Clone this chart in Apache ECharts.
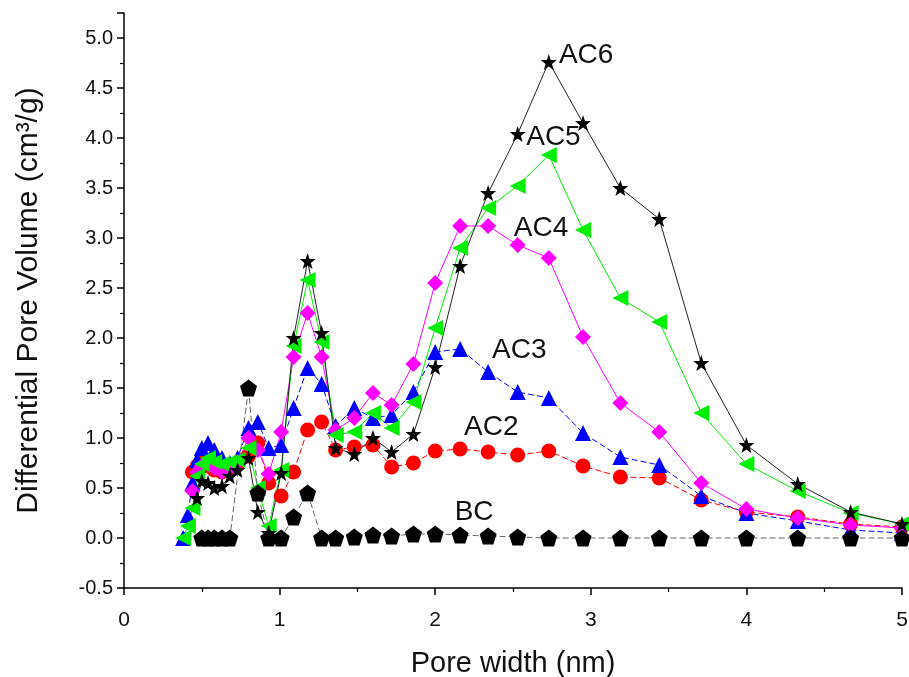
<!DOCTYPE html>
<html>
<head>
<meta charset="utf-8">
<script src="https://cdn.jsdelivr.net/npm/echarts@6/dist/echarts.min.js"></script>
<style>
  html, body { margin: 0; padding: 0; background: #fff; }
  #chart { width: 909px; height: 677px; }
</style>
</head>
<body>
<div id="chart"></div>
<script>
// Pore width grid (nm) shared by all samples
const poreWidth = [0.38, 0.41, 0.44, 0.47, 0.50, 0.54, 0.58, 0.63, 0.68, 0.73, 0.80, 0.86, 0.93, 1.01, 1.09,
  1.18, 1.27, 1.36, 1.48, 1.60, 1.72, 1.86, 2.00, 2.16, 2.34, 2.53, 2.73, 2.95, 3.19, 3.44, 3.71, 4.00,
  4.33, 4.67, 5.00];

// Differential pore volume (cm3/g); null = no measurement at that width
const BC  = [null, null, null, null, 0, 0, 0, 0, 0, null, 1.50, 0.45, 0, 0, 0.21,
  0.45, 0, 0, 0.01, 0.03, 0.02, 0.04, 0.04, 0.03, 0.02, 0.01, 0, 0, 0, 0, 0, 0,
  0, 0, 0];
const AC2 = [null, null, 0.66, 0.72, 0.76, 0.72, 0.68, 0.66, 0.70, 0.74, 0.82, 0.95, 0.55, 0.42, 0.66,
  1.08, 1.16, 0.88, 0.91, 0.93, 0.71, 0.75, 0.87, 0.89, 0.86, 0.83, 0.87, 0.72, 0.61, 0.60, 0.38, 0.26,
  0.21, 0.14, 0.11];
const AC3 = [0.0, 0.23, 0.55, 0.78, 0.90, 0.95, 0.88, 0.80, 0.75, 0.80, 1.10, 1.16, 0.90, 0.93, 1.30,
  1.70, 1.54, 1.12, 1.30, 1.20, 1.23, 1.46, 1.86, 1.89, 1.66, 1.46, 1.40, 1.05, 0.81, 0.73, 0.42, 0.25,
  0.17, 0.08, 0.05];
const AC4 = [null, null, 0.47, 0.66, 0.72, 0.74, 0.70, 0.66, 0.70, 0.76, 1.00, 0.88, 0.64, 1.06, 1.81,
  2.25, 1.81, 1.08, 1.20, 1.45, 1.33, 1.74, 2.55, 3.12, 3.12, 2.93, 2.80, 2.01, 1.35, 1.06, 0.55, 0.29,
  0.20, 0.13, 0.10];
const AC5 = [0.0, 0.12, 0.30, 0.62, 0.74, 0.80, 0.76, 0.74, 0.76, 0.78, 0.90, 0.50, 0.12, 0.68, 1.92,
  2.58, 1.96, 1.03, 1.06, 1.25, 1.10, 1.36, 2.10, 2.90, 3.30, 3.52, 3.83, 3.08, 2.40, 2.16, 1.25, 0.74,
  0.47, 0.25, 0.14];
const AC6 = [null, null, null, 0.40, 0.57, 0.55, 0.50, 0.52, 0.62, 0.68, 0.80, 0.26, 0.05, 0.65, 2.00,
  2.77, 2.05, 0.90, 0.84, 1.00, 0.86, 1.04, 1.71, 2.72, 3.45, 4.04, 4.76, 4.15, 3.50, 3.19, 1.75, 0.93,
  0.54, 0.26, 0.14];

// Axis ticks
const xTicks = { min: 0, max: 5, step: 1 };
const yTicks = { min: -0.5, max: 5.25, step: 0.5 };

// Where each sample name is written (data coordinates, text centre)
const nameAnchors = {
  AC6: [2.97, 4.83], AC5: [2.76, 4.01], AC4: [2.68, 3.10],
  AC3: [2.54, 1.88], AC2: [2.36, 1.11], BC: [2.25, 0.26]
};

const STAR = 'path://M0,-10 L2.35,-3.24 L9.51,-3.09 L3.80,1.24 L5.88,8.09 L0,4 L-5.88,8.09 L-3.80,1.24 L-9.51,-3.09 L-2.35,-3.24 Z';
const PENTAGON = 'path://M0,-10 L9.51,-3.09 L5.88,8.09 L-5.88,8.09 L-9.51,-3.09 Z';
const LEFT_TRI = 'path://M0,5 L10,0 L10,10 Z';

const FONT = 'Liberation Sans, Arial, sans-serif';

function pairs(ys) {
  const out = [];
  ys.forEach((y, i) => { if (y !== null) out.push([poreWidth[i], y]); });
  return out;
}

function makeSeries(name, ys, color, symbol, size, lineType, lineColor) {
  return {
    name: name,
    type: 'line',
    data: pairs(ys),
    symbol: symbol,
    symbolSize: size,
    showAllSymbol: true,
    clip: true,
    itemStyle: { color: color },
    lineStyle: { color: lineColor || color, width: 1, type: lineType },
    emphasis: { disabled: true },
    markPoint: {
      symbol: 'circle', symbolSize: 0, silent: true,
      label: {
        show: true, position: 'inside', formatter: name,
        fontFamily: FONT, fontSize: 28, color: '#111'
      },
      data: [{ coord: nameAnchors[name] }]
    }
  };
}

const chart = echarts.init(document.getElementById('chart'), null, { renderer: 'canvas' });

const axisFont = { fontFamily: FONT, color: '#111' };

chart.setOption({
  animation: false,
  backgroundColor: '#ffffff',
  grid: {
    left: 124, right: 7, top: 13, bottom: 89,
    containLabel: false, outerBoundsMode: 'none'
  },
  xAxis: {
    type: 'value',
    min: xTicks.min, max: xTicks.max, interval: xTicks.step,
    name: 'Pore width (nm)', nameLocation: 'middle', nameGap: 61,
    nameTextStyle: Object.assign({ fontSize: 29 }, axisFont),
    axisLine: { show: true, onZero: false, lineStyle: { color: '#000', width: 1.5 } },
    axisTick: { show: true, inside: false, length: 7, lineStyle: { color: '#000', width: 1.5 } },
    minorTick: { show: true, splitNumber: 2, length: 4, lineStyle: { color: '#000', width: 1.2 } },
    axisLabel: Object.assign({ fontSize: 21, margin: 22 }, axisFont),
    splitLine: { show: false }
  },
  yAxis: {
    type: 'value',
    min: yTicks.min, max: yTicks.max, interval: yTicks.step,
    name: 'Differential Pore Volume (cm³/g)', nameLocation: 'middle', nameGap: 80,
    nameTextStyle: Object.assign({ fontSize: 30 }, axisFont),
    axisLine: { show: true, onZero: false, lineStyle: { color: '#000', width: 1.5 } },
    axisTick: { show: true, inside: false, length: 7, lineStyle: { color: '#000', width: 1.5 } },
    minorTick: { show: true, splitNumber: 2, length: 4, lineStyle: { color: '#000', width: 1.2 } },
    axisLabel: Object.assign({
      fontSize: 20, margin: 11, showMaxLabel: false,
      formatter: v => v.toFixed(1)
    }, axisFont),
    splitLine: { show: false }
  },
  series: [
    makeSeries('AC2', AC2, '#ff0000', 'circle', 15, [6, 3]),
    makeSeries('AC3', AC3, '#0000ff', 'triangle', 16, [6, 3]),
    makeSeries('AC4', AC4, '#ff00ff', 'diamond', 16, 'solid'),
    makeSeries('AC5', AC5, '#00ee00', LEFT_TRI, 16, 'solid'),
    makeSeries('AC6', AC6, '#000000', STAR, 16, 'solid', '#222'),
    makeSeries('BC', BC, '#000000', PENTAGON, 17, [6, 3], '#666')
  ]
});
</script>
</body>
</html>
